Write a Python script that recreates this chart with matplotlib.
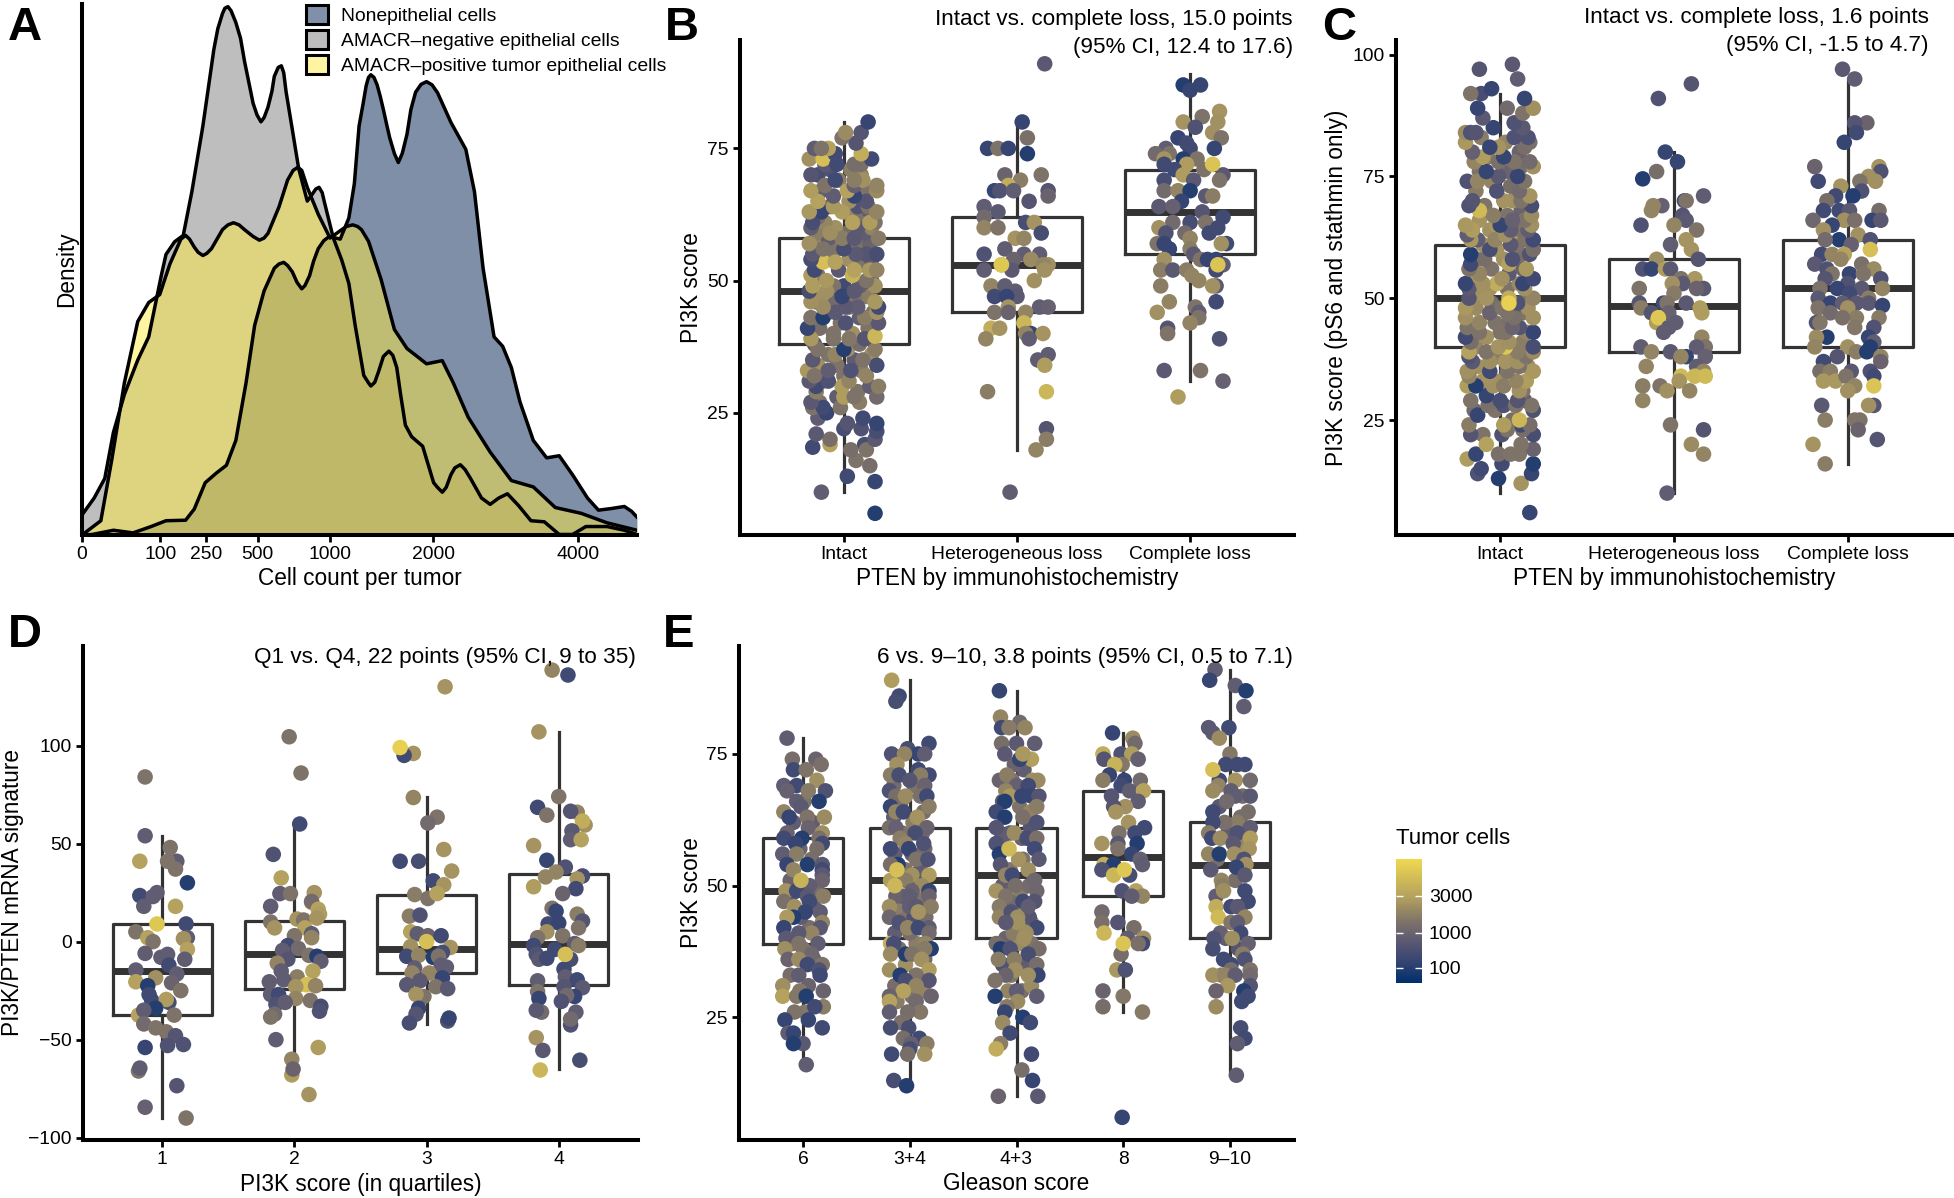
import numpy as np
import matplotlib
matplotlib.use('Agg')
import matplotlib.pyplot as plt
from matplotlib.cm import ScalarMappable
from matplotlib.colors import LinearSegmentedColormap, PowerNorm
from matplotlib.patches import Patch

plt.rcParams['font.family'] = ['Liberation Sans', 'DejaVu Sans']

W, H = 1954, 1198

# Panel A: root of cell count vs. density
nonepi_root = [0, 1.3, 4, 6.5, 8.8, 10.7, 13.2, 14.3, 15.7, 17.1, 18.4, 19.6, 20.9, 22, 23.2, 24.5, 25.1, 25.7, 26.2, 26.8, 27.4, 28, 28.4, 29, 29.5, 30.1, 30.8, 31.5, 32.9, 34, 34.7, 35, 35.3, 35.8, 36.2, 36.5, 36.8, 37.2, 37.6, 38, 38.4, 38.8, 39.2, 39.8, 40.3, 40.8, 41.4, 41.9, 42.5, 43.2, 43.9, 44.6, 45.3, 47, 48.9, 50, 51.1, 52.5, 53.6, 54.7, 55.8, 57.5, 59.2, 60.8, 62.5, 64.4, 65.8, 67.4, 69.1, 70, 70.7]
nonepi_density = [0, .001, .009, .004, .016, .027, .028, .049, .099, .117, .132, .179, .288, .397, .462, .505, .513, .516, .51, .498, .478, .466, .472, .491, .518, .542, .557, .565, .56, .6, .665, .72, .774, .815, .85, .866, .871, .866, .852, .83, .805, .778, .752, .722, .705, .722, .758, .805, .838, .853, .858, .852, .837, .781, .73, .65, .505, .375, .357, .317, .252, .179, .146, .15, .114, .07, .047, .05, .054, .045, .034]
negative_root = [0, 1.55, 2.9, 4, 5.4, 7.1, 8.5, 9.3, 10.1, 10.7, 11.8, 12.9, 14, 15.4, 16.8, 17.3, 17.9, 18.2, 18.6, 19, 19.6, 20.2, 20.7, 21.8, 22.3, 22.8, 23.2, 23.7, 24.2, 24.5, 25, 25.4, 25.7, 26, 26.8, 27.6, 28.7, 29.1, 29.8, 30.2, 30.6, 30.9, 32, 33.1, 34, 34.8, 35.9, 36.5, 36.8, 37.3, 37.8, 38.4, 39.1, 39.6, 40.1, 40.6, 41.2, 42, 43.4, 44.8, 45.3, 45.9, 46.4, 47, 47.5, 48.2, 48.8, 49.5, 50.9, 52, 53.1, 54.2, 55.6, 57.2, 58.9, 60.8, 62.5, 64.2, 66.9, 69.1, 70.7]
negative_density = [.038, .07, .107, .194, .266, .331, .375, .433, .491, .531, .555, .567, .65, .774, .919, .958, .987, .997, 1.0, .992, .97, .94, .897, .817, .795, .782, .79, .81, .84, .868, .885, .888, .875, .839, .767, .694, .632, .64, .655, .658, .648, .629, .563, .52, .476, .397, .302, .288, .282, .289, .31, .338, .348, .34, .317, .265, .208, .186, .168, .099, .09, .081, .09, .114, .127, .133, .124, .107, .07, .058, .07, .078, .056, .027, .025, .001, .001, .016, .016, .009, .001]
positive_root = [0, 2.4, 3.8, 5.4, 7.1, 8.5, 9.9, 11.2, 12.6, 13.2, 13.7, 14.3, 14.8, 15.4, 15.9, 16.5, 17.9, 18.6, 19.3, 20, 20.7, 21.8, 22.6, 23.2, 23.7, 25.1, 26.2, 26.9, 27.5, 28, 28.7, 30.1, 31.6, 33.1, 33.7, 34.5, 35.1, 35.6, 36.5, 38.1, 39.8, 41.4, 43.9, 45.9, 47.3, 49.2, 52, 54.7, 57.5, 60.3, 63.6, 66.9, 70.7]
positive_density = [0, .027, .143, .288, .404, .44, .455, .513, .56, .567, .56, .545, .535, .529, .533, .542, .578, .587, .591, .587, .578, .565, .558, .562, .571, .621, .672, .69, .696, .69, .658, .607, .562, .578, .584, .587, .584, .578, .556, .484, .389, .353, .324, .33, .288, .223, .157, .103, .091, .052, .041, .023, .009]
density_labels = ['Nonepithelial cells', 'AMACR–negative epithelial cells', 'AMACR–positive tumor epithelial cells']
count_ticks = [0, 100, 250, 500, 1000, 2000, 4000]

# Box stats: whisker low, q1, median, q3, whisker high
b_boxes = [(10, 38, 48, 58, 80), (18, 44, 53, 62, 80), (31, 55, 63, 71, 89)]
c_boxes = [(10, 40, 50, 61, 92), (10, 39, 48.5, 58, 80), (16, 40, 52, 62, 95)]
d_boxes = [(-90, -37.5, -15, 9, 54), (-67, -24, -6.5, 10.5, 60), (-42, -16, -4, 24, 74), (-65, -22, -1, 34.5, 107)]
e_boxes = [(16, 39, 49, 59, 78), (12, 40, 51, 61, 89), (10, 40, 52, 61, 87), (26, 48, 55.5, 68, 79), (14, 40, 54, 62, 91)]

pten_labels = ['Intact', 'Heterogeneous loss', 'Complete loss']
quartile_labels = ['1', '2', '3', '4']
gleason_labels = ['6', '3+4', '4+3', '8', '9–10']

# Points: (jitter from group centre, score, tumor cells)
b_intact_dense = [(-.14,27,1500),(-.04,28,800),(.08,29,1500),(.15,30,800),(-.12,31,2000),(0,32,1500),(.1,33,1800),(-.15,34,2400),(-.04,34,1500),(.06,35,800),(.16,36,2400),(-.09,36,1500),(.02,37,2400),(-.17,38,800),(.09,38,1300),(-.06,40,1500),(.05,40,2400),(.14,41,1500),(-.14,41,1300),(-.02,42,1500),(.09,43,800),(-.09,44,2000),(.17,44,1500),(.03,45,1500),(-.16,46,800),(-.05,46,1200),(.13,47,1800),(.06,47,1500),(-.13,47,2400),(0,49,300),(.09,49,800),(-.06,49,1500),(.16,50,800),(-.15,51,1500),(-.03,52,700),(.1,53,1500),(-.09,54,1500),(.03,54,2400),(.16,54,800),(-.14,57,2000),(-.04,56,1500),(.08,57,1500),(.15,57,1000),(-.09,58,800),(.02,59,1300),(.12,59,800),(-.16,59,1800),(-.05,60,2400),(.16,60,2000),(-.11,61,2000),(.09,62,1500),(.01,63,2000),(-.15,62,1400),(.15,63,800),(-.08,64,1200),(.08,64,500),(.03,65,2400),(-.13,67,800),(.12,67,1500),(-.03,69,1800),(.1,70,2000),(-.15,70,400),(.04,71,1800),(-.08,71,500)]
b_intact = [(.18,6,100),(-.13,10,800),(.02,13,300),(.18,12,200),(.15,15,1300),(.07,16,1500),(-.18,18.5,300),(-.08,19,3000),(.12,19,400),(.04,18,1300),(.13,18,1500),(-.08,20,1300),(.18,20,700),(-.16,21,700),(.19,21.5,400),(.1,22,500),(0,22,400),(.19,23,200),(.11,24,300),(.02,23,600),(-.15,24,800),(-.1,25,200),(-.18,26,1500),(-.12,26,300),(-.19,27,700),(-.02,26,1500),(.09,27,1800),(.19,28,1200),(-.16,29,1800),(0,28,2800),(.06,28,1500),(-.01,30,2800),(.2,30,1800),(-.16,30,300),(-.09,31,500),(-.2,31,700),(.13,32,2000),(.03,31,2000),(-.21,33,2600),(-.17,32,1500),(.04,33,500),(-.09,33,800),(.19,34,400),(-.18,35,700),(-.05,36,2000),(.11,35,1500),(0,37,100),(-.15,37,1500),(.18,37,1800),(.12,39,600),(-.19,39,2600),(-.06,39,1500),(.03,39,1600),(.18,39.5,4000),(-.21,41,200),(.01,42,500),(.2,42,700),(.12,43,1800),(-.19,43,1500),(-.12,43,100),(-.05,44,700),(.19,44,2400),(.08,45,800),(.2,45,300),(.01,45,700),(-.12,45,2200),(-.19,46,2400),(.18,46,2600),(-.01,47,200),(-.1,48,2400),(.06,48,700),(-.2,48,400),(.18,49,2400),(-.18,49,2800),(-.1,50,2600),(.13,50,1500),(-.19,51,2800),(.05,51,3800),(.15,52,2600),(.19,52,2000),(-.17,52,300),(.06,52,3000),(-.12,53.5,4500),(-.05,53.5,3000),(-.19,54,400),(.13,55,600),(.07,55,700),(.19,55,400),(-.18,55,700),(-.12,56,1500),(0,56,400),(-.2,57,2400),(-.01,58,1800),(.2,58,1700),(.06,58,700),(-.08,59,2300),(.08,60,700),(-.19,60,800),(.18,61,1500),(.15,61,2800),(-.18,61,400),(.05,61,3000),(-.01,63,2800),(-.13,63,200),(-.06,64,2600),(.14,64,1500),(-.2,63,2600),(.19,63,2000),(.13,65,600),(.06,66,200),(-.15,65,3000),(-.06,66,800),(.19,67,2200),(.02,67,3000),(-.19,67,2800),(-.11,68,1500),(.06,68,900),(.19,68,2000),(-.05,69,300),(-.19,70,600),(.11,69,2400),(.06,69,1800),(-.11,72,700),(-.2,73,2400),(-.12,73,4500),(-.04,72,300),(.1,72,1400),(.06,72,1300),(.16,73,300),(-.05,74,300),(.1,74,3500),(-.17,75,800),(-.09,75,3000),(-.13,75,1500),(.07,76,600),(-.01,77,1500),(.01,78,2200),(.1,78,600),(.14,80,200)]
b_hetero = [(.16,91,700),(.03,80,200),(-.17,75,200),(-.11,75,1500),(-.05,75,200),(.06,74,100),(.06,77,1400),(-.07,70,1000),(.02,69,1800),(.14,70,1500),(-.05,68,3500),(-.13,67,200),(-.1,67,500),(-.02,67,800),(.18,67,600),(.18,66,1000),(.07,65,600),(-.19,64,800),(-.11,63,700),(-.19,62,1200),(.05,61,400),(.1,61,2500),(-.19,60,2000),(-.11,60,1500),(.14,59,400),(-.01,58,2500),(.04,58,2000),(-.07,56,800),(.13,55,800),(-.19,55,500),(.04,55,800),(-.02,54,1000),(.08,54,2200),(.18,53,2400),(-.09,53,3000),(.15,53,2000),(-.19,52,800),(-.03,52,700),(.16,52,2400),(-.09,53,5000),(.1,50,2400),(-.15,49,2000),(-.07,49,800),(-.01,48,800),(0,47,700),(-.13,47,300),(-.06,47,200),(-.05,45,2500),(.13,45,800),(.18,45,900),(-.13,44,1500),(-.05,44,1000),(.05,44,2000),(-.15,41,3500),(-.1,41,2500),(.04,42,4000),(.08,40,200),(.05,40,2000),(.15,40,2500),(.07,39,800),(-.18,39,2000),(.18,36,800),(.12,35,800),(.16,34,2800),(-.17,29,1800),(.17,29,4000),(.17,22,600),(.17,20,1800),(.11,18,2000),(-.04,10,800)]
b_complete = [(-.04,87,100),(.06,87,200),(0,86,200),(.17,82,2500),(.07,81,1500),(-.04,80,2500),(.16,80,2400),(.03,79,500),(.13,78,2400),(.18,77,1500),(-.07,77,200),(-.02,76,300),(.14,75,200),(-.14,75,800),(0,75,300),(-.2,74,1200),(-.12,74,1500),(-.04,73,100),(-.15,73,2500),(.04,73,1500),(-.15,72,300),(-.02,72,2800),(-.09,71,300),(.08,71,1500),(-.04,70,2800),(.19,70,700),(-.15,69,400),(.02,69,700),(.17,69,1500),(-.15,67,1200),(-.07,67,2000),(0,67,100),(.09,66,700),(.13,66,1800),(-.05,65,200),(-.18,64,700),(-.1,64,900),(.07,63,600),(.19,62,300),(-.1,61,1200),(0,61,400),(.09,61,1500),(-.18,60,2400),(.16,60,300),(-.14,59,500),(-.03,59,1200),(.11,59,300),(0,58,2000),(-.19,57,1500),(.21,57,300),(.18,57,2400),(-.15,57,200),(-.12,56,200),(0,56,1800),(.02,55,700),(-.15,54,2400),(.06,54,1500),(.1,54,200),(.15,54,200),(.19,53,800),(-.17,52,1800),(-.1,52,700),(-.02,52,1800),(.15,52,300),(.13,72,4800),(.16,53,4800),(.01,51,2000),(.05,50,2000),(-.17,49,1800),(.15,49,700),(.13,49,2400),(-.12,46,2000),(.15,46,300),(.03,45,1500),(.05,44,800),(-.19,44,2400),(.05,43,1500),(0,42,2000),(-.13,41,600),(-.13,40,1500),(.17,39,500),(-.15,33,700),(.06,33,1500),(.19,31,900),(-.07,28,2800)]
c_intact_dense = [(-.1,22,1500),(.07,25,1300),(-.15,27,1200),(-.03,27,1500),(.14,29,800),(-.1,33,2400),(.13,31,1500),(0,33,2400),(.16,36,2400),(-.13,36,2400),(-.02,38,1800),(.06,39,2400),(-.14,40,2000),(.13,41,1800),(0,43,1500),(-.08,42,2400),(.15,43,2000),(-.15,44,1300),(-.03,45,1500),(.05,45,1400),(.13,47,1500),(-.14,48,2200),(-.05,49,1300),(.08,48,1000),(.15,50,1500),(-.13,51,2400),(.04,52,1500),(-.06,52,2400),(.11,53,2200),(-.15,54,2400),(.05,55,700),(-.05,56,1500),(.13,56,1000),(-.13,58,1800),(.02,58,2400),(.12,59,1300),(-.02,60,2500),(.09,61,1500),(-.1,61,2400),(.14,62,1500),(-.13,62,800),(.06,63,2600),(-.06,64,2400),(.12,64,1500),(-.02,65,2600),(-.12,66,2500),(.04,67,1500),(.12,68,1000),(-.09,69,1500),(-.14,72,1800),(.07,70,2400),(-.05,74,2000),(.05,76,1000),(-.12,76,1500),(.12,77,1300),(-.07,79,1800),(.11,80,1000),(-.11,83,1800),(.03,82,2000)]
c_intact = [(.17,6,200),(.12,12,2500),(-.01,13,100),(-.13,14,500),(.18,14,200),(-.11,15,300),(.01,16,300),(.19,16,100),(-.19,17,2800),(-.14,18,200),(-.01,18,1400),(.06,18,1500),(.11,18,1500),(.19,19,1000),(-.08,20,3000),(.12,20,1500),(.01,22,500),(-.17,22,600),(.19,22,400),(.13,23,1300),(.12,24,300),(.04,23,1500),(-.18,24,1800),(.02,24,2800),(.17,24,1300),(.11,25,4000),(-.13,26,200),(.19,27,500),(.18,28,1500),(-.07,28,1400),(-.17,29,1500),(.02,28,500),(.09,28,1500),(.1,29,600),(0,29,400),(-.08,30,200),(.11,31,2400),(-.19,32,2800),(-.14,32,100),(-.04,32,2400),(.02,32,1800),(.15,33,2800),(.09,33,2000),(-.18,34,2000),(-.07,34,2500),(.04,35,1500),(-.06,35,300),(.19,35,2600),(-.19,35,2400),(.11,36,1500),(-.16,37,700),(-.06,37,2300),(.03,37,2500),(.1,37,2400),(-.18,38,500),(.15,38,1500),(.19,39,2200),(-.18,39,3000),(-.08,39,1500),(.1,39,1800),(.03,40,5000),(.19,40,400),(-.01,40,2500),(.05,41,2400),(-.17,41,1300),(-.2,42,300),(.19,43,200),(.03,43,1500),(-.12,43,1500),(-.19,44,1500),(.11,44,600),(.07,44,1000),(-.12,45,2000),(.08,46,1400),(.19,46,2400),(-.2,46,2400),(-.06,47,1000),(.04,47,1500),(-.2,48,2600),(.16,48,2400),(.01,48,1500),(.1,49,500),(-.18,50,600),(.05,50,3500),(-.08,50,2500),(.19,50,2000),(.05,49,5500),(-.18,52,700),(.14,52,2400),(-.02,53,3500),(-.1,53,2400),(.13,53,200),(-.2,53,200),(.01,54,2400),(-.12,55,2000),(.19,54,300),(-.18,56,1500),(.15,56,2600),(.05,57,3000),(-.17,57,300),(.07,58,500),(-.09,58,1300),(.17,59,500),(-.17,59,100),(-.06,60,2000),(.19,60,1300),(-.06,60,400),(.06,61,700),(-.17,62,2600),(-.03,62,2000),(.19,62,300),(.03,63,2400),(-.19,63,800),(-.16,64,2800),(.16,64,800),(.06,64,800),(.18,65,2400),(-.2,65,2600),(0,65,200),(.14,66,1500),(.07,66,900),(-.04,67,1800),(.18,67,2200),(-.12,68,4200),(-.18,69,500),(.18,69,400),(.02,70,2500),(.12,70,1500),(-.16,70,600),(.17,71,2500),(-.02,72,500),(.06,73,1300),(.11,72,1200),(-.19,74,500),(-.13,74,2000),(.14,74,1500),(.1,75,200),(-.01,75,700),(-.08,76,200),(.19,77,2400),(-.15,78,2000),(.17,78,1200),(-.01,78,1400),(.08,78,1500),(.02,79,200),(-.1,79,2800),(-.16,80,900),(-.01,81,2500),(.14,81,1300),(-.06,81,200),(-.2,82,2600),(.17,82,1400),(.08,83,500),(.16,83,500),(-.2,84,2200),(-.17,84,500),(-.14,84,600),(-.04,85,200),(.13,85,700),(.08,86,500),(-.1,87,700),(.13,88,1500),(.04,89,1200),(.19,89,2400),(-.13,89,200),(.14,91,200),(-.11,92,400),(-.17,92,1500),(-.05,93,200),(.1,95,800),(-.12,97,600),(.07,98,700)]
c_hetero = [(.1,94,600),(-.09,91,500),(-.05,80,200),(.02,78,200),(-.1,76,1300),(-.18,74.5,100),(.17,71,800),(.06,70,300),(.07,70,1500),(-.07,69,900),(-.12,69,2000),(-.13,68,2000),(.05,67,600),(.07,66,700),(-.19,65,500),(0,65,2000),(.13,64,1500),(.07,62,2500),(-.02,61,800),(.1,60,2500),(-.1,58,2300),(.14,58,600),(-.18,56,500),(-.13,56,200),(-.05,56,2800),(-.02,56,700),(.12,54,2600),(.04,54,1500),(.05,53,700),(-.01,53,2400),(-.2,52,1500),(.17,52,700),(.13,52,1000),(0,51,1700),(-.2,49,600),(-.06,49,300),(.07,49,700),(-.04,49,1500),(-.19,48,1800),(.15,48,2800),(-.13,47,600),(.16,47,2800),(-.03,47,1000),(-.1,45,2800),(-.09,46,5000),(.01,45,800),(-.03,44,800),(-.06,43,800),(.16,42,2000),(-.19,40,800),(.18,40,1500),(.13,40,800),(-.13,39,2000),(-.02,39,700),(.18,38,900),(.07,38,200),(.04,38,2000),(.13,36,800),(-.16,36,2000),(.17,35,2000),(.04,34,4200),(.12,34,4000),(.18,34,4200),(-.18,32,1800),(-.08,32,1500),(.03,33,2500),(-.04,31,2400),(.09,31,2000),(-.18,29,2000),(-.02,24,1500),(.17,23,600),(.1,20,2200),(.17,18,2000),(-.04,10,800)]
c_complete = [(-.03,97,700),(.04,95,800),(.11,86,1000),(.04,86,600),(.05,84,300),(-.02,82,200),(.18,77,2500),(-.19,77,1000),(.19,76,500),(.12,75,2400),(-.17,74,300),(.07,74,1500),(.16,74,2400),(-.04,73,2500),(.08,72,500),(-.07,71,300),(.03,71,100),(-.12,70,1300),(-.14,68,300),(-.05,68,300),(.01,68,700),(.18,68,1300),(.14,66,200),(-.2,66,1100),(-.02,66,2400),(.04,66,1400),(.19,66,700),(-.09,65,200),(-.14,64,2400),(.06,63,2400),(-.05,62,100),(-.13,62,1200),(.13,62,500),(.02,61,900),(.13,60,4500),(-.15,59,300),(-.09,59,2000),(-.02,59,3000),(-.04,58,2000),(-.19,57,700),(.08,57,1400),(-.12,56,500),(.15,56,2200),(-.09,55,1500),(.01,55,200),(.09,55,1500),(-.13,54,600),(.19,54,500),(0,53,500),(-.06,52,200),(-.16,52,1500),(.08,52,700),(.2,52,2000),(.01,51,300),(-.17,50,700),(.12,50,1800),(-.1,49,200),(-.03,49,800),(.05,49,700),(.12,49,700),(.2,48.5,200),(-.17,48,1500),(0,48,2400),(-.1,47,1200),(.05,46,1800),(.18,46,1700),(-.03,46,1400),(-.18,45,500),(-.16,45,1600),(.04,44,1600),(.15,44,500),(.12,42,200),(-.12,42,100),(-.18,42,2200),(.15,41,800),(-.19,40,2000),(0,40,2400),(.13,40,100),(.05,39,1800),(.11,39,100),(.19,38,2000),(-.06,38,600),(-.14,37,300),(.19,37,1000),(-.16,35,1300),(.02,35,700),(.13,35,500),(-.1,35,1800),(.15,34,300),(-.14,33,2600),(-.07,33,2600),(-.01,34,1500),(.04,32,2000),(.15,32,4800),(0,31,2400),(-.15,28,700),(.15,28,600),(.12,28,2400),(-.13,25,1800),(.04,25,1500),(.07,25,1500),(.06,23,1000),(.17,21,600),(-.2,20,2500),(-.13,16,1800)]
d_q1 = [(-.13,84,1500),(-.13,54,800),(.06,48,1500),(-.17,41,3000),(.11,41,800),(.04,41,1500),(.1,37,1500),(.19,30,100),(-.17,23.5,300),(-.04,25,800),(-.07,23,800),(-.14,18,800),(.1,18,3000),(.18,9,300),(-.2,5,1500),(-.11,2,3000),(-.07,0,1500),(.19,2,800),(.16,1.5,2400),(.19,-4,3000),(-.13,-6,800),(.04,-6.5,800),(-.01,-8,800),(.17,-9,800),(.05,-12,300),(-.2,-14.5,800),(.11,-16.5,800),(-.05,-18.5,2400),(-.2,-20.5,3000),(.07,-21,1000),(-.11,-22.5,100),(.14,-25,1500),(-.1,-27,300),(-.08,-30,300),(.05,-31,400),(.03,-29.5,2800),(-.05,-34,100),(-.18,-37.5,3000),(-.14,-35,800),(.09,-37.5,1500),(-.14,-42,1200),(-.05,-44,1500),(.03,-46,1500),(.1,-48,600),(-.13,-54,200),(.04,-53,500),(.16,-52.5,500),(-.18,-66,1500),(-.17,-64.5,800),(.11,-73.5,600),(-.13,-84.5,900),(.18,-90,1500),(-.04,9,5000)]
d_q2 = [(-.04,104.5,1500),(.05,86,1500),(.04,60,300),(-.16,44.5,500),(-.1,32.5,3000),(-.11,24.5,800),(-.03,24.5,1500),(.15,25,2500),(.13,20,3000),(.13,20.5,1200),(-.18,18,800),(.18,16.5,3000),(.19,14,2800),(.02,11.5,2500),(.07,11,1500),(.17,12,2500),(-.18,10,1500),(-.15,7,2500),(.08,7,3000),(.13,4,800),(.13,2,2000),(0,3,1500),(-.05,-2,300),(.03,-3.5,1200),(-.09,-4.5,800),(.11,-7,1500),(.17,-7.5,100),(-.05,-9,600),(.2,-10,800),(-.13,-11,2000),(.14,-15,3000),(-.1,-15,800),(.02,-18,1800),(-.08,-19.5,800),(-.19,-20.5,800),(.09,-22,4500),(.01,-23,2500),(.16,-22.5,2000),(-.18,-27,800),(-.12,-27,300),(.01,-29,2000),(.12,-30,1500),(-.14,-32,500),(-.07,-31,800),(.2,-33,400),(.19,-35.5,500),(-.15,-37,1200),(-.18,-38.5,1500),(-.14,-50,800),(.18,-54,2800),(-.02,-60,2000),(-.02,-68,2800),(-.01,-65,1000),(.11,-78,2500)]
d_q3 = [(.14,130,2500),(-.1,96,2500),(-.17,95,300),(-.2,99,5500),(-.1,73.5,2000),(.08,63.5,1500),(.01,60.5,1200),(.13,47,2500),(-.2,41,300),(-.06,41,400),(.19,36,2500),(.05,31,300),(.13,29,2500),(-.09,24,1800),(.01,22,1500),(.08,24.5,3000),(-.13,13,1800),(-.05,13.5,500),(-.12,5,3000),(-.07,4,800),(.01,3,1000),(.11,3,300),(-.12,-2.5,2400),(.18,-3,2500),(.12,-5.5,400),(-.15,-7.5,300),(-.06,-7,2000),(.05,-8,100),(.09,-7.5,1500),(.11,-12,800),(.15,-13,800),(-.09,-13.5,800),(-.11,-16,2000),(.02,-16,2000),(.12,-18.5,200),(-.05,-20,700),(-.15,-22,700),(.07,-23,1500),(.16,-24,700),(-.02,-28,1500),(-.08,-27,2500),(-.06,-34,200),(-.08,-37,600),(.16,-40.5,500),(.17,-39,200),(-.13,-41.5,400),(0,0,4500)]
d_q4 = [(-.05,138.5,2000),(.07,136,300),(-.15,107,2500),(0,74,1500),(-.16,68.5,300),(-.09,64.5,1500),(.14,66,2000),(.09,66.5,600),(.2,59.5,2400),(.18,61.5,3500),(.1,56.5,700),(.09,52,800),(.17,52,3000),(-.19,49,2500),(-.09,41.5,200),(.05,38,500),(-.02,35.5,2000),(-.1,33,2000),(.18,33.5,400),(.14,32,2500),(-.19,28,2800),(.13,27,300),(.03,24.5,1000),(-.05,17,1500),(-.02,15.5,200),(.14,14,1800),(.18,10.5,600),(-.08,9,300),(0,9.5,200),(.15,7,1500),(-.09,5,2400),(.03,3,1500),(-.16,2,1500),(.12,-1,800),(.15,-2,1800),(-.19,-2,300),(-.03,-4,300),(-.17,-6.5,500),(.09,-9,400),(-.15,-9,700),(-.09,-8.5,300),(.04,-14,300),(.05,-18,800),(-.16,-20,800),(.14,-19.5,300),(.04,-23,600),(.18,-23.5,700),(-.16,-25.5,1500),(.12,-28,200),(.06,-27.5,1200),(-.15,-29,200),(.02,-30.5,500),(-.13,-36,1200),(-.17,-35,700),(.13,-36,800),(.09,-42.5,500),(.09,-39.5,1200),(-.17,-49,2500),(-.12,-55.5,700),(.16,-60.5,400),(-.14,-65.5,4000),(.05,-6.5,4500)]
e_6 = [(.02,26,1600),(-.12,33,1300),(.1,36,800),(-.1,39,1300),(.06,42,1300),(-.02,44,800),(.1,46,800),(-.12,48,800),(.12,49,1300),(-.12,51,1000),(.08,55,1300),(-.03,57,1000),(.09,62,800),(-.09,62,800),(.01,66,1500),(-.15,78,800),(-.1,74,1300),(.12,74,1000),(.17,73,1400),(-.09,72,300),(.03,72,1500),(.13,70,2400),(-.18,69,800),(-.06,69,300),(.21,68,500),(-.15,68,900),(.05,68,1700),(.15,66,100),(-.06,66,800),(-.02,65,700),(-.18,64,2000),(-.13,63,200),(.2,63,2200),(.04,63,1500),(.05,61,1000),(.18,60,2300),(-.15,60,1000),(.15,59,1400),(-.18,59,300),(-.01,59,100),(-.07,58,200),(.18,58,300),(.13,57,1300),(-.19,56,800),(-.06,56,1800),(-.15,54,200),(.04,54,100),(.18,54,700),(.18,53,300),(-.09,53,2000),(.18,52,700),(.18,51,1000),(.06,50,800),(-.16,49,2500),(-.06,49,300),(.04,48,700),(.19,48,1800),(-.18,47,1400),(.06,47,300),(-.08,46,2400),(.16,45,800),(.02,45,200),(-.09,44,100),(-.15,44,2700),(.18,43,2000),(-.18,42,200),(.16,42,700),(.08,41,2000),(-.04,41,700),(-.16,40,700),(.14,39,800),(-.04,39,1500),(-.17,38,2300),(0,38,1500),(.08,37,1100),(-.14,36,1000),(-.04,36,2200),(.18,35,1500),(.04,35,300),(.15,34,500),(-.04,33,800),(.16,33,300),(-.19,31,2300),(.05,31,1000),(.19,30,1000),(-.03,30,1600),(-.19,29,3000),(-.06,29,1600),(.03,29,100),(.19,27,1800),(.11,27,300),(-.08,26,1500),(-.17,24.5,200),(.05,24.5,200),(.18,23,300),(-.14,22,800),(-.09,22,200),(0,20,700),(-.09,20,100),(.03,16,800),(-.02,51,3800)]
e_34 = [(-.12,28,1800),(.02,29,1500),(.13,30,2000),(-.14,31,1300),(-.04,35,2400),(.14,36,1300),(-.1,38,1500),(.06,39,1800),(-.14,41,800),(0,41,1300),(.12,43,700),(-.06,44,1500),(.04,44,500),(.15,44,1300),(-.12,46,1800),(0,46,800),(.11,47,1500),(-.07,48,800),(.06,48,1500),(-.13,48,1000),(.14,49,1500),(-.04,53,1500),(.1,53,800),(-.14,56,800),(.02,56,800),(.14,57,1200),(-.07,60,1500),(.12,60,1300),(-.15,63,800),(.03,62,1800),(.13,64,1300),(-.08,66,1500),(.04,69,1500),(-.15,69,1200),(-.17,89,2800),(-.1,86,300),(-.13,85,400),(.18,77,300),(-.02,76,400),(-.17,75,500),(.08,75,200),(.14,75,800),(-.05,75,2000),(-.12,73,2400),(.08,72,300),(.18,71,300),(-.18,71,1800),(-.1,71,400),(.1,71,1800),(0,70,600),(.14,69,1000),(-.19,68,500),(-.13,67,1300),(-.04,67,2200),(.1,67,1400),(.16,67,300),(.18,65,1800),(-.18,65,200),(-.13,64,2000),(-.06,64,300),(.07,63,2500),(-.19,61,1300),(-.13,61,900),(.16,61,1000),(.05,60,400),(-.09,59,1800),(.13,58,500),(-.04,58,2000),(-.18,57,300),(-.01,57,200),(.06,55,1500),(.17,55,500),(-.11,54,100),(-.18,54,1300),(.02,52,2400),(.18,52,2800),(-.18,51,2800),(-.04,51,1800),(.11,50,2200),(.02,49,1000),(.18,49,200),(.18,48,1000),(0,48,800),(-.19,46,2300),(.06,46,700),(.2,46,1800),(.08,45,2500),(-.19,44,1100),(-.1,43,500),(.18,42,800),(-.02,42,2000),(.08,42,300),(.18,41,1200),(-.18,39,3500),(-.15,39,400),(.15,39,2000),(.2,38,100),(.14,38,1700),(-.18,37,2200),(-.04,37,100),(.02,37,1500),(.11,36,2400),(.18,34,2800),(-.19,34,2400),(-.09,33,100),(.06,33,1500),(.18,32,600),(-.04,32,400),(.06,31,2000),(-.06,30,3000),(-.19,29,1000),(.2,29,1000),(.06,28,1200),(-.19,28,3000),(.1,26,1600),(-.02,26,1300),(-.19,26,800),(-.08,24,1400),(-.01,23,400),(-.18,23,400),(.09,21,300),(-.06,21,1300),(.16,20,1800),(.01,20,900),(0,19,400),(.14,18,2400),(-.02,18,1300),(-.17,18,300),(-.15,13,400),(-.03,12,100),(-.12,53,4500),(-.14,50,4000)]
e_43 = [(-.08,30,2000),(.05,30,1300),(.14,31,2200),(-.05,33,1600),(.07,35,800),(-.13,35,500),(.14,39,1500),(.03,39,2200),(-.1,40,1000),(-.03,41,1800),(.14,43,2000),(.05,45,2300),(.12,44,600),(-.12,46,800),(-.02,47,1200),(.04,49,1800),(-.13,50,800),(.12,50,1200),(-.06,53,1600),(.06,55,1500),(-.14,59,800),(.05,59,1000),(-.06,60,800),(.13,61,600),(-.13,66,800),(.03,65,1500),(.13,64,2000),(-.04,70,1500),(.07,72,800),(-.02,73,1000),(-.16,87,200),(-.15,82,2000),(.03,81,1200),(-.14,80,300),(-.07,80,1700),(.08,80,2000),(0,77,700),(.17,77,800),(-.14,77,1300),(-.11,75,700),(.14,74,2900),(.03,74,200),(.06,75,2600),(-.16,70,1000),(-.09,71,1800),(.15,70,2300),(.2,70,2200),(0,69,900),(.11,69,300),(-.1,68,2000),(-.06,67,2600),(.05,67,200),(.14,67,200),(.21,67,600),(-.11,66,100),(.19,65,1800),(-.19,64,300),(-.11,63,100),(.06,63,1400),(.19,62,500),(-.19,61,600),(-.02,60,2200),(.1,59,400),(.19,59,1400),(-.19,58,500),(.17,57,300),(-.16,56,100),(.02,55,2500),(.21,55,700),(-.15,54,600),(.11,53,2300),(-.1,52,2000),(-.04,52,300),(.17,51,1100),(-.19,49,2500),(-.01,50,1300),(-.1,48,1500),(.19,49,1100),(.06,47,300),(.17,47,600),(.11,46,800),(-.16,46,1700),(-.16,44,2000),(-.05,45,500),(.01,44,2300),(.01,43,2400),(.19,42,300),(-.1,43,700),(.09,41,2300),(-.19,39,1300),(.07,40,2400),(-.15,38,100),(-.06,38,500),(.21,38,1300),(.11,37,400),(-.17,36,1800),(-.02,36,1800),(.19,35,1300),(-.01,34,2300),(-.1,33,1000),(.2,33,200),(.11,33,2300),(-.2,32,1500),(0,30,800),(-.2,29,100),(.19,29,800),(.01,28,2200),(-.09,27,1700),(.06,25,100),(-.11,26,200),(.13,24,300),(-.13,24,2200),(-.06,22,300),(-.15,20,1800),(-.19,19,3500),(.14,18,300),(.05,15,1300),(.15,13,200),(-.17,10,1000),(.2,10,700),(-.07,57,4200)]
e_8 = [(-.1,79,200),(.09,78,2200),(.11,77,1200),(-.02,75,500),(-.19,75,3500),(.08,75,2800),(.14,74,900),(-.18,74,600),(-.01,73,1600),(-.08,73,3800),(-.13,71,200),(-.19,70,1800),(.16,70,1200),(.01,70,200),(-.02,69,300),(.06,68,800),(.19,68,3000),(-.11,67,600),(.14,66,800),(.02,65,2400),(-.09,65,600),(-.07,64,2500),(.05,62,2500),(.2,61,300),(.11,60,300),(-.04,60,1500),(-.05,58,700),(.13,58,100),(-.2,58,2500),(-.05,57,1500),(.08,56,200),(.16,55,900),(.18,54,800),(-.18,54,3500),(-.09,54,100),(-.2,53,500),(.06,52,400),(-.09,52,4000),(-.01,49,500),(.12,49,3000),(.18,48,2000),(.08,48,800),(-.2,45,1200),(-.2,43,1400),(-.05,43,600),(.1,42,1300),(-.18,41,4000),(.04,40,800),(.19,40,2400),(.18,39,300),(.14,39,1400),(-.02,37,1300),(-.06,34,2600),(.02,34,500),(-.19,30,1000),(0,29,1600),(-.19,27,1300),(.18,26,1700),(-.01,6,200),(.01,53,5000),(0,39,4800)]
e_910 = [(-.08,33,1800),(.08,38,600),(-.04,40,800),(.1,46,1300),(-.13,48,800),(.05,51,1300),(-.12,55,1300),(.11,58,2000),(-.02,60,800),(.1,63,1300),(-.1,65,700),(.12,67,1300),(-.14,91,800),(-.19,89,200),(.05,88,800),(.15,87,100),(.13,84,800),(-.2,80,700),(-.01,80,300),(-.16,79,700),(-.1,78,2200),(0,75,1600),(-.04,73,300),(.07,73,300),(.14,73,300),(-.1,70,300),(.05,70,2500),(.19,70,1200),(-.11,69,2000),(-.16,68,2200),(.01,68,800),(.19,67,700),(.05,67,800),(-.03,66,1200),(.17,64,1300),(-.16,64,300),(.07,62,1800),(-.05,62,1400),(-.16,62,300),(.19,61,800),(-.2,60,1800),(.07,60,500),(.19,59,2800),(-.17,59,300),(-.09,59,2200),(.03,58,700),(.18,57,2500),(-.2,56,2000),(-.1,56,100),(.04,56,2400),(.13,55,500),(.15,54,2400),(.06,53.5,200),(-.18,53,700),(.14,52,700),(-.08,51,2000),(-.07,50,1800),(.14,49,300),(-.06,49,2300),(.17,47,300),(-.13,46,3500),(.01,46,300),(.07,46,700),(-.11,44,4200),(.14,44,2000),(.01,43,1600),(.07,43,800),(.1,41,300),(-.09,41,900),(-.15,40,500),(.02,40,2300),(.17,39,900),(-.16,38,400),(.12,37,1800),(-.06,36,300),(.14,36,500),(.01,35,300),(.19,34,1500),(.01,34,1300),(-.16,33,2400),(-.05,33,2000),(.19,33,1200),(.05,33,800),(-.02,31,2600),(.19,31,600),(-.13,30,1000),(.13,30,100),(.17,29,300),(.11,28,300),(-.13,27,2200),(.1,23,400),(.14,21,300),(.07,20,800),(.06,14,800),(-.16,72,4500)]

cell_norm = PowerNorm(0.5, vmin=9, vmax=6084)
cell_cmap = LinearSegmentedColormap.from_list('tumor', [(0, '#002F6C'), (.2, '#3D4872'), (.35, '#5E5A72'), (.5, '#7F7468'), (.7, '#B5A25E'), (1, '#F0D850')])
BOX = '#333333'


def px_axes(left, top, right, bottom):
    ax = fig.add_axes([left / W, 1 - bottom / H, (right - left) / W, (bottom - top) / H])
    ax.patch.set_alpha(0)
    for side in ['top', 'right']:
        ax.spines[side].set_visible(False)
    for side in ['left', 'bottom']:
        ax.spines[side].set_linewidth(2.9)
    ax.tick_params(width=2, length=5, labelsize=13.9, pad=3)
    return ax


def set_labels(ax, xlabel, ylabel, box, xlabel_y, ylabel_x):
    left, top, right, bottom = box
    ax.set_xlabel(xlabel, fontsize=16.3, va='center')
    ax.set_ylabel(ylabel, fontsize=16.3, va='center')
    ax.xaxis.set_label_coords(0.5, (bottom - xlabel_y) / (bottom - top))
    ax.yaxis.set_label_coords((ylabel_x - left) / (right - left), 0.5)


def box_jitter(box, groups, boxes, labels, ylim, yticks, yticklabels, xlabel, ylabel, xlabel_y, ylabel_x):
    ax = px_axes(*box)
    stats = [dict(whislo=b[0], q1=b[1], med=b[2], q3=b[3], whishi=b[4]) for b in boxes]
    positions = list(range(1, len(boxes) + 1))
    line = dict(color=BOX, linewidth=2.3)
    ax.bxp(stats, positions=positions, widths=0.75, showfliers=False, showcaps=False,
           boxprops=line, whiskerprops=line, medianprops=dict(color=BOX, linewidth=5, solid_capstyle='butt'),
           manage_ticks=False, zorder=2)
    for pos, group in zip(positions, groups):
        pts = np.array(group)
        ax.scatter(pos + pts[:, 0], pts[:, 1], c=pts[:, 2], cmap=cell_cmap, norm=cell_norm,
                   s=125, linewidths=0, zorder=3)
    ax.set_xlim(0.4, len(boxes) + 0.6)
    ax.set_ylim(*ylim)
    ax.set_xticks(positions)
    ax.set_xticklabels(labels)
    ax.set_yticks(yticks)
    ax.set_yticklabels(yticklabels)
    set_labels(ax, xlabel, ylabel, box, xlabel_y, ylabel_x)
    return ax


fig = plt.figure(figsize=(W / 100, H / 100), dpi=100)

# Panel A
box_a = (82, 4, 637, 535)
ax = px_axes(*box_a)
curves = [(nonepi_root, nonepi_density, '#002150', 0.5),
          (negative_root, negative_density, '#7F7F7F', 0.5),
          (positive_root, positive_density, '#FFEB41', 0.5)]
for root, density, colour, alpha in curves:
    cells = np.array(root) ** 2
    ax.fill_between(cells, density, 0, color=colour, alpha=alpha, linewidth=0)
    ax.plot(cells, density, color='black', linewidth=2.5, solid_joinstyle='round')
ax.set_xscale('function', functions=(np.sqrt, np.square))
ax.set_xlim(0, 5000)
ax.set_ylim(0, 1.005)
ax.set_xticks(count_ticks)
ax.set_xticklabels([str(c) for c in count_ticks])
ax.set_yticks([])
set_labels(ax, 'Cell count per tumor', 'Density', box_a, 578, 67)
handles = [Patch(facecolor=c, edgecolor='black', linewidth=2.2) for c in ['#8090A8', '#BDBDBD', '#FFF5A0']]
fig.legend(handles, density_labels, loc='upper left', bbox_to_anchor=(306 / W, 1 - 5 / H), frameon=False,
           fontsize=13.9, borderpad=0, borderaxespad=0, handlelength=1.15, handleheight=1.15,
           labelspacing=0.26, handletextpad=0.68)

# Panels B-E
box_jitter((740, 40, 1294, 535), [b_intact_dense + b_intact, b_hetero, b_complete], b_boxes, pten_labels, (1.9, 95.5),
           [25, 50, 75], ['25', '50', '75'], 'PTEN by immunohistochemistry', 'PI3K score', 578, 691)
box_jitter((1396, 40, 1952, 535), [c_intact_dense + c_intact, c_hetero, c_complete], c_boxes, pten_labels, (1.4, 103),
           [25, 50, 75, 100], ['25', '50', '75', '100'], 'PTEN by immunohistochemistry',
           'PI3K score (pS6 and stathmin only)', 578, 1337)
box_jitter((83, 646, 638, 1140), [d_q1, d_q2, d_q3, d_q4], d_boxes, quartile_labels, (-101.2, 150.8),
           [-100, -50, 0, 50, 100], ['−100', '−50', '0', '50', '100'], 'PI3K score (in quartiles)',
           'PI3K/PTEN mRNA signature', 1184, 13)
box_jitter((739, 646, 1294, 1140), [e_6, e_34, e_43, e_8, e_910], e_boxes, gleason_labels, (1.7, 95.5),
           [25, 50, 75], ['25', '50', '75'], 'Gleason score', 'PI3K score', 1184, 691)

# Panel letters and effect sizes
for letter, x, y in [('A', 8, 28), ('B', 665, 28), ('C', 1322, 28), ('D', 8, 635), ('E', 663, 635)]:
    fig.text(x / W, 1 - y / H, letter, fontsize=34, fontweight='bold', va='center', ha='left')
notes = [('Intact vs. complete loss, 15.0 points', 1293, 20), ('(95% CI, 12.4 to 17.6)', 1293, 47),
         ('Intact vs. complete loss, 1.6 points', 1929, 18), ('(95% CI, -1.5 to 4.7)', 1929, 45),
         ('Q1 vs. Q4, 22 points (95% CI, 9 to 35)', 636, 657), ('6 vs. 9–10, 3.8 points (95% CI, 0.5 to 7.1)', 1293, 657)]
for note, x, y in notes:
    fig.text(x / W, 1 - y / H, note, fontsize=16.2, ha='right', va='center')

# Colour bar
cax = fig.add_axes([1396 / W, 1 - 983 / H, 26 / W, 124 / H])
cbar = fig.colorbar(ScalarMappable(norm=cell_norm, cmap=cell_cmap), cax=cax)
cbar.outline.set_visible(False)
cbar.set_ticks([100, 1000, 3000])
cbar.set_ticklabels(['100', '1000', '3000'])
cax.minorticks_off()
cax.tick_params(axis='y', direction='in', color='white', length=5, width=1, left=True, right=True, labelsize=14, pad=5)
fig.text(1396 / W, 1 - 838 / H, 'Tumor cells', fontsize=16, va='center', ha='left')

fig.savefig('out.png', dpi=100)
